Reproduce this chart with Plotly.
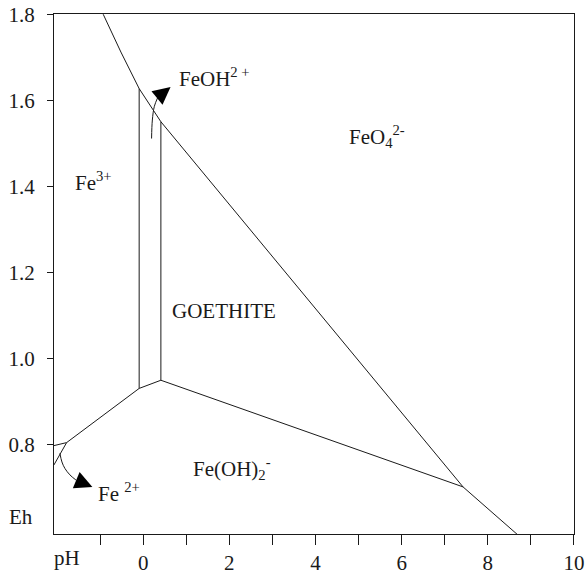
import plotly.graph_objects as go

# ---- data (pH, Eh) ----
upper_ph = [-0.928, -0.517, -0.093, 0.411, 7.425, 8.69]
upper_eh = [1.800, 1.712, 1.627, 1.550, 0.701, 0.590]

lower_ph = [-2.072, -1.777, -0.093, 0.411, 7.425]
lower_eh = [0.752, 0.804, 0.930, 0.949, 0.701]

fe3_fe2_ph = [-2.072, -1.777]
fe3_fe2_eh = [0.797, 0.804]

feoh_left_ph = [-0.093, -0.093]
feoh_left_eh = [1.627, 0.930]
feoh_right_ph = [0.411, 0.411]
feoh_right_eh = [1.550, 0.949]

arrow1_ph = [0.195, 0.213, 0.260, 0.341]
arrow1_eh = [1.511, 1.554, 1.586, 1.607]
arrow1_tip = (0.636, 1.631)

arrow2_ph = [-1.933, -1.886, -1.817, -1.701, -1.561]
arrow2_eh = [0.779, 0.759, 0.744, 0.729, 0.717]
arrow2_tip = (-1.179, 0.701)

labels = ["FeOH<sup>2 +</sup>", "Fe<sup>3+</sup>", "FeO<sub>4</sub><sup>2-</sup>",
          "GOETHITE", "Fe(OH)<sub>2</sub><sup>-</sup>", "Fe <sup>2+</sup>"]
label_ph = [0.78, -1.64, 4.74, 0.63, 1.12, -1.10]
label_eh = [1.653, 1.410, 1.515, 1.110, 0.743, 0.689]

x_major = [0, 2, 4, 6, 8, 10]
x_minor = [-1, 1, 3, 5, 7, 9]
y_ticks = [0.8, 1.0, 1.2, 1.4, 1.6, 1.8]

LC = "#1a1a1a"
FONT = "Liberation Serif, Times New Roman, serif"
FS = 21

fig = go.Figure()
line = dict(color=LC, width=1)
for xs, ys in [(upper_ph, upper_eh), (lower_ph, lower_eh), (fe3_fe2_ph, fe3_fe2_eh),
               (feoh_left_ph, feoh_left_eh), (feoh_right_ph, feoh_right_eh)]:
    fig.add_trace(go.Scatter(x=xs, y=ys, mode="lines", line=line, hoverinfo="skip"))

for xs, ys in [(arrow1_ph, arrow1_eh), (arrow2_ph, arrow2_eh)]:
    fig.add_trace(go.Scatter(x=xs, y=ys, mode="lines", line=dict(color=LC, width=1, shape="spline"),
                             hoverinfo="skip"))

for (tx, ty), xs, ys in [(arrow1_tip, arrow1_ph, arrow1_eh), (arrow2_tip, arrow2_ph, arrow2_eh)]:
    fig.add_annotation(x=tx, y=ty, ax=xs[-1], ay=ys[-1], axref="x", ayref="y", xref="x", yref="y",
                       text="", showarrow=True, arrowhead=2, arrowsize=3.5, arrowwidth=1,
                       arrowcolor="black", standoff=0, startstandoff=0)

for t, x, y in zip(labels, label_ph, label_eh):
    fig.add_annotation(x=x, y=y, text=t, showarrow=False, xanchor="left", yanchor="middle",
                       font=dict(family=FONT, size=FS, color=LC))

fig.add_annotation(xref="paper", yref="paper", x=-0.0635, y=0.0327, text="Eh", showarrow=False,
                   xanchor="center", yanchor="middle", font=dict(family=FONT, size=FS, color=LC))
fig.add_annotation(xref="paper", yref="paper", x=0.025, y=-0.046, text="pH", showarrow=False,
                   xanchor="center", yanchor="middle", font=dict(family=FONT, size=FS, color=LC))

fig.update_layout(
    width=585, height=573,
    margin=dict(l=54, r=11, t=14, b=39, autoexpand=False),
    plot_bgcolor="white", paper_bgcolor="white",
    showlegend=False,
    font=dict(family=FONT, size=FS, color=LC),
    xaxis=dict(range=[-2.07, 10.001], tickmode="array", tickvals=x_major,
               ticktext=[str(v) for v in x_major], automargin=False,
               tickfont=dict(family=FONT, size=FS, color=LC),
               ticks="outside", ticklen=10, tickwidth=1, tickcolor=LC,
               minor=dict(tickmode="array", tickvals=x_minor, ticks="outside", ticklen=10,
                          tickwidth=1, tickcolor=LC, showgrid=False),
               showline=True, linecolor=LC, linewidth=1, mirror=True,
               showgrid=False, zeroline=False, ticklabelstandoff=0),
    yaxis=dict(range=[0.5915, 1.8005], tickmode="array", tickvals=y_ticks,
               ticktext=[f"{v:.1f}" for v in y_ticks], automargin=False,
               tickfont=dict(family=FONT, size=FS, color=LC),
               ticks="outside", ticklen=6, tickwidth=1, tickcolor=LC,
               showline=True, linecolor=LC, linewidth=1, mirror=True,
               showgrid=False, zeroline=False, ticklabelstandoff=8),
)

fig.write_html("out.html", config={"displayModeBar": False},
               post_script="document.body.style.margin='0';")
